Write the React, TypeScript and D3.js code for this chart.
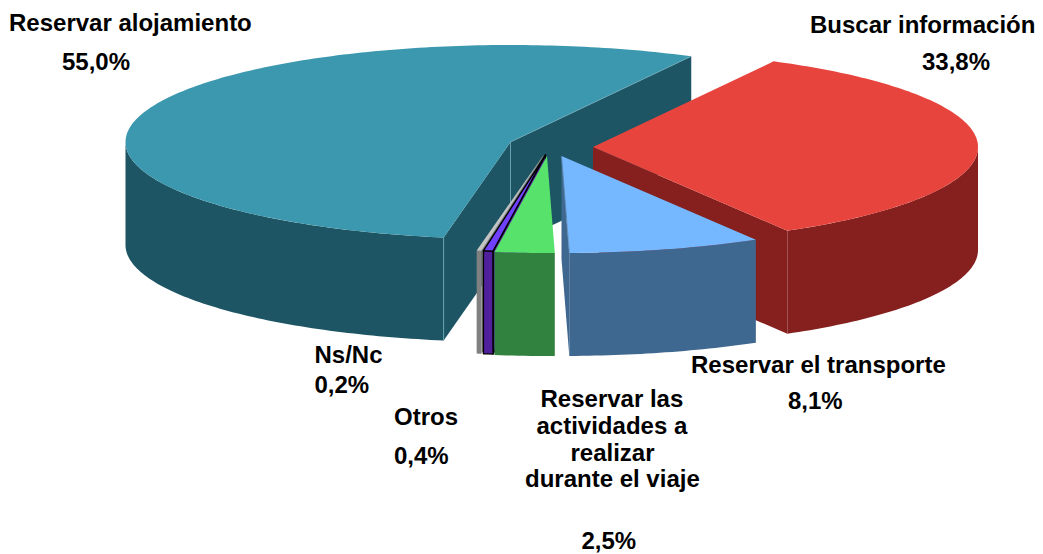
import React from "react";
import * as d3 from "d3";

const categories = ["Reservar alojamiento", "Buscar información", "Reservar el transporte", "Reservar las actividades a realizar durante el viaje", "Otros", "Ns/Nc"];
const values = [55.0, 33.8, 8.1, 2.5, 0.4, 0.2];
const topColors = ["#3c98ae", "#e8443e", "#75b8ff", "#57e26b", "#7040ff", "#c4c4c4"];
const wallColors = ["#1d5564", "#85201e", "#3f6890", "#30823e", "#50209c", "#808080"];
const edgeColors = ["#6fa9b8", "none", "#5f86ad", "none", "#000000", "none"];
const apexX = [510.5, 593, 561.5, 547, 545.5, 543.5];
const apexY = [142, 147, 156, 156, 155, 155];

const RX = 385, RY = 97, DEPTH = 103;
const W = 1043, H = 554;

const labelLines: [string, number, number][] = [
  ["Reservar alojamiento", 9, 31], ["55,0%", 62, 70],
  ["Buscar información", 810, 33], ["33,8%", 922, 70],
  ["Reservar el transporte", 691, 373], ["8,1%", 788, 409],
  ["Reservar las", 540.5, 406.5], ["actividades a", 536.5, 434], ["realizar", 570.5, 460.5], ["durante el viaje", 525, 487], ["2,5%", 581.5, 549],
  ["Ns/Nc", 314.5, 363], ["0,2%", 314.5, 393],
  ["Otros", 394, 425], ["0,4%", 394, 464],
];

const deg = Math.PI / 180;
const pie = d3.pie<number>().sort(null).value((d) => d).startAngle(190 * deg).endAngle(550 * deg);
const line = d3.line<[number, number]>().x((d) => d[0]).y((d) => d[1]);

export default function App() {
  const arcs = pie(values);
  const sx = d3.scaleLinear().domain([-1, 1]).range([-RX, RX]);
  const sy = d3.scaleLinear().domain([-1, 1]).range([-RY, RY]);
  const pt = (i: number, a: number, dz = 0): [number, number] => [
    apexX[i] + sx(Math.sin(a)),
    apexY[i] + sy(-Math.cos(a)) + dz,
  ];
  const rim = (i: number, a0: number, a1: number, dz = 0) => {
    const n = Math.max(2, Math.ceil((a1 - a0) / (1 * deg)));
    return d3.range(n + 1).map((k) => pt(i, a0 + ((a1 - a0) * k) / n, dz));
  };
  const slices = arcs.map((arc, i) => {
    // slices past a full turn are brought back into the first turn
    const turn = arc.startAngle >= 360 * deg ? 360 * deg : 0;
    const a0 = arc.startAngle - turn, a1 = arc.endAngle - turn;
    const c: [number, number] = [apexX[i], apexY[i]];
    const cb: [number, number] = [apexX[i], apexY[i] + DEPTH];
    const top = line([c, ...rim(i, a0, a1)]) + "Z";
    const faces: { d: string }[] = [];
    if (Math.sin(a0) < 0) faces.push({ d: line([c, pt(i, a0), pt(i, a0, DEPTH), cb])! + "Z" });
    if (Math.sin(a1) > 0) faces.push({ d: line([c, pt(i, a1), pt(i, a1, DEPTH), cb])! + "Z" });
    // outer wall: only the front half of the rim
    const lo = Math.max(a0, 90 * deg), hi = Math.min(a1, 270 * deg);
    let wall = "";
    if (hi > lo) {
      wall = line([...rim(i, lo, hi), ...rim(i, lo, hi, DEPTH).reverse()])! + "Z";
    }
    const edges: string[] = [];
    if (Math.sin(a0) < 0) edges.push(line([c, cb])!, line([pt(i, a0), pt(i, a0, DEPTH)])!);
    if (Math.sin(a1) > 0) edges.push(line([c, pt(i, a1)])!);
    return { i, top, faces, wall, edges, a0, a1 };
  });
  const drawOrder = [0, 1, 2, 5, 4, 3];
  return (
    <svg width={W} height={H} viewBox={`0 0 ${W} ${H}`} style={{ position: "absolute", left: 0, top: 0, background: "#fff" }}>
      {drawOrder.map((i) => {
        const s = slices[i];
        const black = i === 4;
        return (
          <g key={categories[i]} stroke={black ? "#000" : "none"} strokeWidth={black ? 1.4 : 0} strokeLinejoin="round">
            {s.faces.map((f, k) => <path key={k} d={f.d} fill={wallColors[i]} />)}
            {s.wall && <path d={s.wall} fill={wallColors[i]} />}
            <path d={s.top} fill={topColors[i]} />
            {!black && edgeColors[i] !== "none" && s.edges.map((e, k) => (
              <path key={k} d={e} fill="none" stroke={edgeColors[i]} strokeWidth={0.8} />
            ))}
          </g>
        );
      })}
      <g fontFamily="'Liberation Sans', Arial, sans-serif" fontWeight="bold" fontSize={24} fill="#000">
        {labelLines.map(([t, x, y], k) => (
          <text key={k} x={x} y={y}>{t}</text>
        ))}
      </g>
    </svg>
  );
}
